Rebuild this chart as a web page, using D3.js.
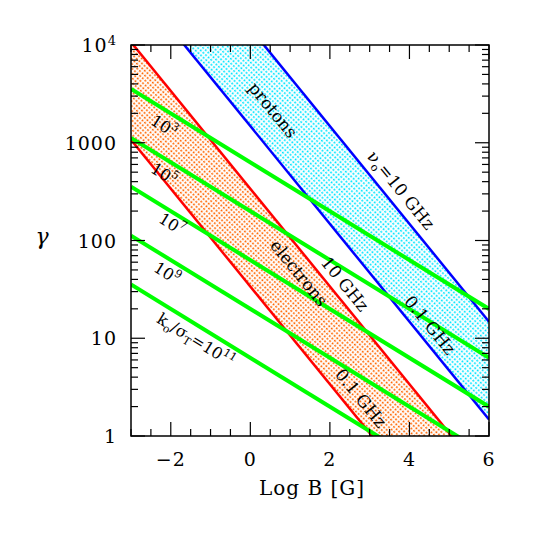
<!DOCTYPE html>
<html><head><meta charset="utf-8">
<script src="https://cdn.jsdelivr.net/npm/d3@7"></script>
<style>body{margin:0;background:#fff}text{font-family:"DejaVu Serif",serif;fill:#000}</style>
</head><body>
<svg id="c" width="534" height="534"></svg>
<script>
// ---- data ----
const xDomain = [-3, 6];
const yDomain = [1, 1e4];
const xMajorTicks = [-2, 0, 2, 4, 6];
const yMajorTicks = [1, 10, 100, 1000, 1e4];
const yTickLabels = ["1", "10", "100", "1000", "10^4"];
const xTickLabels = ["\u22122", "0", "2", "4", "6"];
// synchrotron lines: log10(gamma) at log B = -3, slope -1/2
const syncSlope = -0.5;
const electronLogGamma0 = [3.03, 4.03];   // 0.1 GHz, 10 GHz
const protonLogGamma0 = [4.67, 5.67];     // 0.1 GHz, 10 GHz
// Compton lines: log10(gamma) at log B = -3, slope -1/4
const comptonSlope = -0.25;
const kExponents = [3, 5, 7, 9, 11];
const comptonLogGamma0 = [3.55, 3.05, 2.55, 2.05, 1.55];

const m = {l:131, t:45, r:489, b:436};
const x = d3.scaleLinear().domain(xDomain).range([m.l, m.r]);
const y = d3.scaleLog().domain(yDomain).range([m.b, m.t]);
const svg = d3.select("#c");

const defs = svg.append("defs");
defs.append("clipPath").attr("id","clip").append("rect")
  .attr("x",m.l).attr("y",m.t).attr("width",m.r-m.l).attr("height",m.b-m.t);
function hatch(id, color){
  const p = defs.append("pattern").attr("id",id).attr("patternUnits","userSpaceOnUse")
    .attr("width",3.5).attr("height",3.5).attr("patternTransform","rotate(42)");
  p.append("rect").attr("width",3.5).attr("height",3.5).attr("fill","#fff");
  p.append("line").attr("x1",0).attr("y1",1.2).attr("x2",3.5).attr("y2",1.2)
    .attr("stroke",color).attr("stroke-width",1.6).attr("stroke-dasharray","2,1.5");
}
hatch("hOr","#ff6600");
hatch("hCy","#00e5ff");

const lineAt = (lg0, s, xb) => Math.pow(10, lg0 + s*(xb - xDomain[0]));
const seg = (lg0, s) => [[xDomain[0], lineAt(lg0,s,xDomain[0])],[xDomain[1], lineAt(lg0,s,xDomain[1])]];
const lineGen = d3.line().x(d=>x(d[0])).y(d=>y(d[1]));

const g = svg.append("g").attr("clip-path","url(#clip)");
function band(lgs, fill){
  const a = seg(lgs[0], syncSlope), b = seg(lgs[1], syncSlope);
  g.append("path").attr("d", lineGen([a[0],a[1],b[1],b[0]])+"Z").attr("fill",fill);
}
band(electronLogGamma0, "url(#hOr)");
band(protonLogGamma0, "url(#hCy)");
electronLogGamma0.forEach(l=>g.append("path").attr("d",lineGen(seg(l,syncSlope)))
  .attr("stroke","#ff0000").attr("stroke-width",2.5).attr("fill","none"));
protonLogGamma0.forEach(l=>g.append("path").attr("d",lineGen(seg(l,syncSlope)))
  .attr("stroke","#0000ff").attr("stroke-width",2.5).attr("fill","none"));
comptonLogGamma0.forEach(l=>g.append("path").attr("d",lineGen(seg(l,comptonSlope)))
  .attr("stroke","#00ff00").attr("stroke-width",4).attr("fill","none"));

// frame
svg.append("rect").attr("x",m.l).attr("y",m.t).attr("width",m.r-m.l).attr("height",m.b-m.t)
  .attr("fill","none").attr("stroke","#000").attr("stroke-width",1.5);

// ticks
const tk = svg.append("g").attr("stroke","#000").attr("stroke-width",1.2);
d3.range(-3, 6.01, 0.5).forEach(v=>{
  const major = xMajorTicks.includes(v);
  const L = major ? 14 : 7;
  tk.append("line").attr("x1",x(v)).attr("x2",x(v)).attr("y1",m.b).attr("y2",m.b-L);
  tk.append("line").attr("x1",x(v)).attr("x2",x(v)).attr("y1",m.t).attr("y2",m.t+L);
});
const yMinor = [];
for (let e=0;e<4;e++) for (let k=2;k<=9;k++) yMinor.push(k*Math.pow(10,e));
yMinor.forEach(v=>{
  tk.append("line").attr("x1",m.l).attr("x2",m.l+7).attr("y1",y(v)).attr("y2",y(v));
  tk.append("line").attr("x1",m.r).attr("x2",m.r-7).attr("y1",y(v)).attr("y2",y(v));
});
yMajorTicks.forEach(v=>{
  tk.append("line").attr("x1",m.l).attr("x2",m.l+14).attr("y1",y(v)).attr("y2",y(v));
  tk.append("line").attr("x1",m.r).attr("x2",m.r-14).attr("y1",y(v)).attr("y2",y(v));
});

// tick labels
xMajorTicks.forEach((v,i)=>{
  svg.append("text").attr("x",x(v)).attr("y",466).attr("text-anchor","middle")
    .attr("font-size",19).attr("letter-spacing",1).text(xTickLabels[i]);
});
yMajorTicks.forEach((v,i)=>{
  const t = svg.append("text").attr("x",117).attr("y",y(v)+7).attr("text-anchor","end")
    .attr("font-size",19).attr("letter-spacing",1);
  const lab = yTickLabels[i];
  if (lab.includes("^")) {
    const [b,e] = lab.split("^");
    t.append("tspan").text(b);
    t.append("tspan").attr("dy",-7).attr("font-size",13).text(e);
  } else t.text(lab);
});
svg.append("text").attr("x",312).attr("y",495).attr("text-anchor","middle")
  .attr("font-size",20).attr("letter-spacing",1).text("Log B [G]");
svg.append("text").attr("x",42).attr("y",244).attr("text-anchor","middle")
  .attr("font-size",22).attr("font-style","italic").text("\u03b3");

// rotated annotations
const pxSlope = s => Math.atan(-s * (y(1)-y(10)) / (x(1)-x(0))) * 180/Math.PI;
const aSync = pxSlope(syncSlope), aComp = pxSlope(comptonSlope);
function label(cx, cy, ang, parts, fs){
  const t = svg.append("text").attr("transform",`translate(${cx},${cy}) rotate(${ang})`)
    .attr("text-anchor","middle").attr("dy","0.35em").attr("font-size",fs||17);
  parts.forEach(p=>{
    const s = t.append("tspan").text(p.t);
    if (p.sub) s.attr("font-size",11).attr("dy",4);
    if (p.sup) s.attr("font-size",11).attr("dy",-7);
    if (p.back) s.attr("dy",p.back);
  });
}
label(273,110,aSync,[{t:"protons"}]);
label(401,190,aSync,[{t:"\u03bd"},{t:"o",sub:1},{t:"=10 GHz",back:-4}]);
label(430,325,aSync,[{t:"0.1 GHz"}]);
label(345,284,aSync,[{t:"10 GHz"}]);
label(361,398,aSync,[{t:"0.1 GHz"}]);
label(299,273,aSync,[{t:"electrons"}]);
const kPos = [[164,126],[164,174],[172,224],[167,273]];
kPos.forEach((p,i)=>label(p[0],p[1],aComp,[{t:"10"},{t:String(kExponents[i]),sup:1}],16));
label(196,340,aComp,[{t:"k"},{t:"o",sub:1},{t:"/\u03c3",back:-4},{t:"T",sub:1},{t:"=10",back:-4},{t:String(kExponents[4]),sup:1}],16);
</script>
</body></html>
